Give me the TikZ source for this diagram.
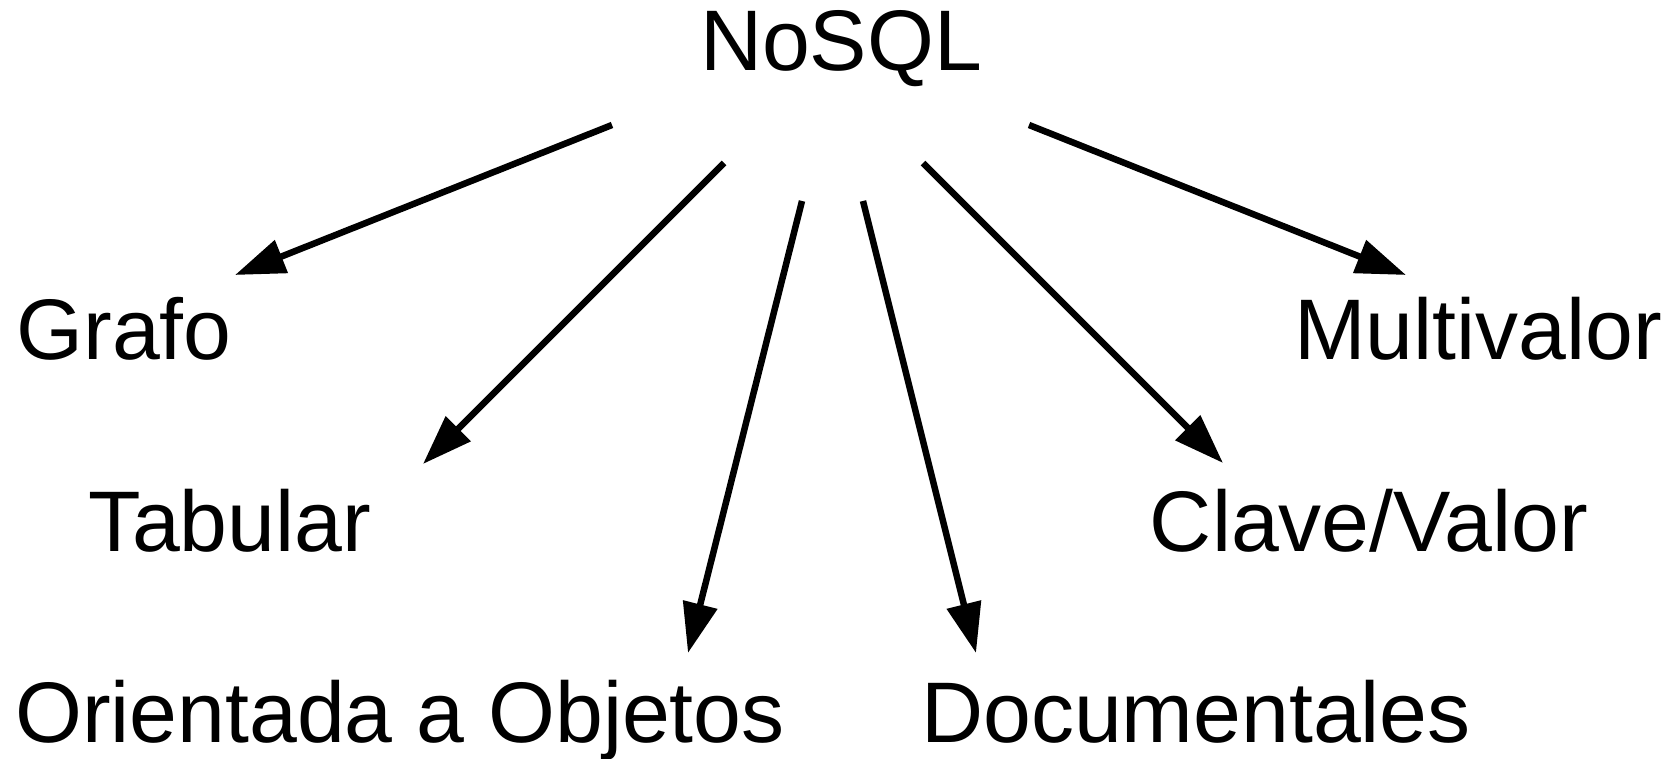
\documentclass[tikz,border=0pt]{standalone}
\usepackage{fontspec}
\setmainfont{Liberation Sans}
\usetikzlibrary{arrows.meta}
\begin{document}
\begin{tikzpicture}[x=1pt,y=1pt,
  lbl/.style={inner sep=0pt,outer sep=0pt,anchor=base,font=\fontsize{86}{100}\selectfont},
  conn/.style={line width=6.5pt,-{Triangle[length=50pt,width=34pt]}}]
\useasboundingbox (0,0) rectangle (1675,758);
\node[lbl] (nosql) at (841,687) {NoSQL};
\node[lbl] (grafo) at (124,398) {Grafo};
\node[lbl] (multi) at (1478,398) {Multivalor};
\node[lbl] (tab) at (230,206) {Tabular};
\node[lbl] (clave) at (1369,206) {Clave/Valor};
\node[lbl] (obj) at (400,16) {Orientada a Objetos};
\node[lbl] (doc) at (1196,16) {Documentales};
\coordinate (s1) at (612,633); \coordinate (t1) at (235,483);
\coordinate (s2) at (724,595); \coordinate (t2) at (423,294);
\coordinate (s3) at (802,557); \coordinate (t3) at (688,105);
\coordinate (s4) at (863,557); \coordinate (t4) at (976,105);
\coordinate (s5) at (923,595); \coordinate (t5) at (1223,295);
\coordinate (s6) at (1029,633); \coordinate (t6) at (1406,483);
\draw[conn] (s1) -- (t1);
\draw[conn] (s2) -- (t2);
\draw[conn] (s3) -- (t3);
\draw[conn] (s4) -- (t4);
\draw[conn] (s5) -- (t5);
\draw[conn] (s6) -- (t6);
\end{tikzpicture}
\end{document}
